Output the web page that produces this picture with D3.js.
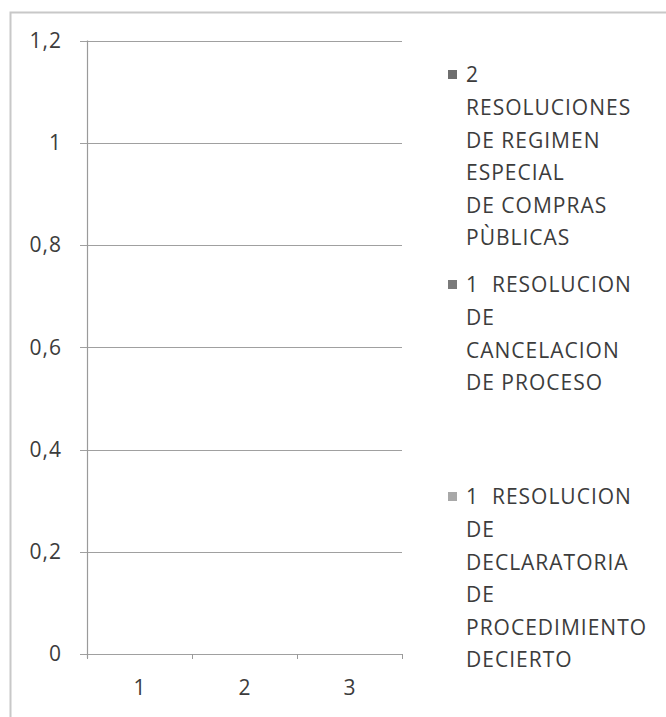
<!DOCTYPE html>
<html><head><meta charset="utf-8">
<script src="https://cdn.jsdelivr.net/npm/d3@7/dist/d3.min.js"></script>
<style>
html,body{margin:0;padding:0;background:#fff;}
text{font-family:"Open Sans",sans-serif;fill:#3c3c3c;}
</style></head>
<body><svg id="c" width="666" height="717"></svg>
<script>
const categories = ["1","2","3"];
const seriesNames = [
  ["2","RESOLUCIONES","DE REGIMEN","ESPECIAL","DE COMPRAS","PÙBLICAS"],
  ["1  RESOLUCION","DE","CANCELACION","DE PROCESO"],
  ["1  RESOLUCION","DE","DECLARATORIA","DE","PROCEDIMIENTO","DECIERTO"]
];
const seriesValues = [
  [0,0,0],
  [0,0,0],
  [0,0,0]
];
const seriesColors = ["#6e6e6e","#7a7a7a","#a8a8a8"];
const yTicks = [0,0.2,0.4,0.6,0.8,1,1.2];
const yTickLabels = ["0","0,2","0,4","0,6","0,8","1","1,2"];

const svg = d3.select("#c");
// outer frame
svg.append("path").attr("d","M10.5,717 L10.5,12.5 L666,12.5")
  .attr("fill","none").attr("stroke","#c8c8c8").attr("stroke-width",2);

const x = d3.scaleBand().domain(categories).range([87,402]);
const y = d3.scaleLinear().domain([0,1.2]).range([654,40.5]);

// gridlines
svg.append("g").selectAll("line").data(yTicks).join("line")
  .attr("x1",80).attr("x2",402)
  .attr("y1",d=>Math.round(y(d))+0.5).attr("y2",d=>Math.round(y(d))+0.5)
  .attr("stroke","#a0a0a0").attr("stroke-width",1);

// y axis line
svg.append("line").attr("x1",87.5).attr("x2",87.5).attr("y1",y(1.2)).attr("y2",y(0)+4)
  .attr("stroke","#9a9a9a").attr("stroke-width",1.2);

// y labels
svg.append("g").selectAll("text").data(yTicks).join("text")
  .attr("x",62).attr("y",d=>y(d)).attr("dy","0.35em").attr("text-anchor","end")
  .attr("font-size",21).attr("letter-spacing",1).text((d,i)=>yTickLabels[i]);

// x ticks
const xEdges = categories.map(c=>x(c)).concat([x.range()[1]]);
svg.append("g").selectAll("line").data(xEdges).join("line")
  .attr("x1",d=>Math.round(d)+0.5).attr("x2",d=>Math.round(d)+0.5)
  .attr("y1",y(0)).attr("y2",y(0)+5).attr("stroke","#9a9a9a");

// x labels
svg.append("g").selectAll("text").data(categories).join("text")
  .attr("x",d=>x(d)+x.bandwidth()/2).attr("y",y(0)+41).attr("text-anchor","middle")
  .attr("font-size",21).text(d=>d);

// bars (values are zero)
const xs = d3.scaleBand().domain(d3.range(seriesValues.length)).range([0,x.bandwidth()]).paddingInner(0).paddingOuter(0.75);
seriesValues.forEach((vals,si)=>{
  svg.append("g").selectAll("rect").data(vals).join("rect")
    .attr("x",(d,i)=>x(categories[i])+xs(si)).attr("width",xs.bandwidth())
    .attr("y",d=>y(d)).attr("height",d=>y(0)-y(d)).attr("fill",seriesColors[si]);
});

// legend
const legendTops = [75,285,497];
const lineH = 32.6;
seriesNames.forEach((lines,i)=>{
  const g = svg.append("g");
  g.append("rect").attr("x",448).attr("y",legendTops[i]-5).attr("width",9).attr("height",9)
    .attr("fill",seriesColors[i]);
  lines.forEach((t,j)=>{
    g.append("text").attr("x",466).attr("y",legendTops[i]+j*lineH).attr("dy","0.35em")
      .attr("font-size",21).attr("letter-spacing",1).style("white-space","pre").text(t);
  });
});
</script></body></html>
